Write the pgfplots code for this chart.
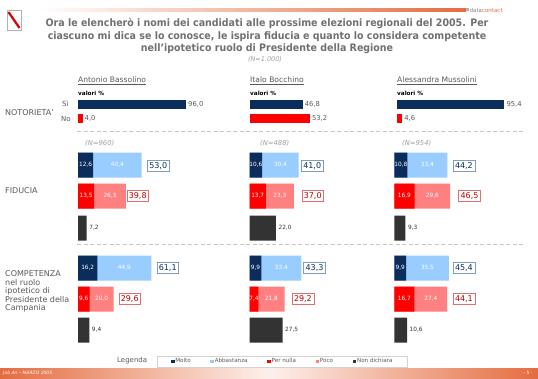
\documentclass[border=0pt]{standalone}
\usepackage{pgfplots}
\pgfplotsset{compat=1.18}
\usepackage{fontspec}
\setmainfont{DejaVu Sans}
\newfontfamily\titlefont[FakeStretch=0.92]{DejaVu Sans}
\definecolor{navy}{HTML}{0B2D5B}
\definecolor{lblue}{HTML}{99CCFF}
\definecolor{pred}{HTML}{FF0000}
\definecolor{pink}{HTML}{FF8080}
\definecolor{dgray}{HTML}{333333}
\definecolor{txt}{HTML}{5A5A5A}
\definecolor{ttl}{HTML}{707070}
\definecolor{ngray}{HTML}{A0A0A0}
\definecolor{boxblue}{HTML}{7F9CBA}
\definecolor{boxred}{HTML}{E07070}
\definecolor{darkred}{HTML}{C00000}
\definecolor{orng}{HTML}{E46C3F}
\newcommand{\fs}[1]{\fontsize{#1}{#1}\selectfont}
\pgfplotsset{
  panel/.style={hide axis, scale only axis, clip=false,
    ymin=-378, ymax=0, height=378pt, xmin=0, xmax=100, anchor=south west},
  hb/.style={xbar, bar shift=0pt, draw=none, fill=#1, forget plot},
}
\tikzset{
  inl/.style={font=\fs{5.8}, text=white, inner sep=0pt},
  outl/.style={font=\fs{5.8}, text=dgray, inner sep=0pt, anchor=west, xshift=2.5pt},
  nv/.style={font=\fs{6.8}, text=txt, inner sep=0pt, anchor=west, xshift=2pt},
  bbox/.style={draw=boxblue, text=navy, font=\fs{8}, inner xsep=2pt, inner ysep=0pt, minimum height=11pt, anchor=west, line width=0.6pt},
  rbox/.style={draw=boxred, text=darkred, font=\fs{8}, inner xsep=2pt, inner ysep=0pt, minimum height=11pt, anchor=west, line width=0.6pt},
  lab/.style={font=\fs{8}, text=txt, inner sep=0pt, anchor=base west},
}
\begin{document}
\begin{tikzpicture}[x=1pt,y=1pt]
\path[use as bounding box] (0,0) rectangle (538,-378);
\fill[white] (0,0) rectangle (538,-378);
% top decoration
\shade[left color=white, right color=orng] (40,-8.5) rectangle (466,-11);
\fill[gray!60] (466,-8) rectangle (469,-11);
\node[anchor=west, inner sep=0, font=\fs{5.5}] at (469.5,-10) {\textcolor{gray}{data}\textcolor{orng}{contact}};
% logo
\draw[gray!60, line width=0.6pt] (7,-10) rectangle (21,-30);
\draw[red!85!black, line width=2.2pt] (8.5,-12) -- (19.5,-28);
% title
\node[anchor=base, font={\titlefont\bfseries\fs{10.3}}, text=ttl, inner sep=0] at (267,-26.7) {Ora le elencherò i nomi dei candidati alle prossime elezioni regionali del 2005. Per};
\node[anchor=base, font={\titlefont\bfseries\fs{10.3}}, text=ttl, inner sep=0] at (267,-39.1) {ciascuno mi dica se lo conosce, le ispira fiducia e quanto lo considera competente};
\node[anchor=base, font={\titlefont\bfseries\fs{10.3}}, text=ttl, inner sep=0] at (267,-51.5) {nell’ipotetico ruolo di Presidente della Regione};
\node[anchor=base, font={\itshape\fs{6.5}}, text=ngray, inner sep=0] at (265,-61) {(N=1.000)};
% column headers
\foreach \x/\n in {78/Antonio Bassolino, 250/Italo Bocchino, 397/Alessandra Mussolini} {
  \node[anchor=base west, inner sep=0, font=\fs{7.6}, text=txt] at (\x,-82.5) {\underline{\n}};
  \node[anchor=base west, inner sep=0, font=\bfseries\fs{5.7}, text=black] at (\x,-95) {valori \%};
}
% left labels
\node[lab] at (5,-115) {NOTORIETA'};
\node[lab, font=\fs{7}] at (62,-106.8) {Sì};
\node[lab, font=\fs{7}] at (61,-121) {No};
\node[lab] at (5,-193) {FIDUCIA};
\node[lab] at (5,-276.5) {COMPETENZA};
\node[lab] at (5,-285.1) {nel ruolo};
\node[lab] at (5,-293.7) {ipotetico di};
\node[lab] at (5,-302.3) {Presidente della};
\node[lab] at (5,-310.9) {Campania};
% dashed separators
\draw[gray!45, dash pattern=on 4pt off 2.5pt, line width=0.6pt] (77,-131) -- (525,-131);
\draw[gray!45, dash pattern=on 4pt off 2.5pt, line width=0.6pt] (77,-244) -- (525,-244);
% N labels
\node[anchor=base west, inner sep=0, font={\itshape\fs{6.8}}, text=ngray] at (85,-145.5) {(N=960)};
\node[anchor=base west, inner sep=0, font={\itshape\fs{6.8}}, text=ngray] at (260,-145.5) {(N=488)};
\node[anchor=base west, inner sep=0, font={\itshape\fs{6.8}}, text=ngray] at (402,-145.5) {(N=954)};

% ---------- NOTORIETA' (y = -row position in px) ----------
\begin{axis}[panel, at={(78pt,-378pt)}, width=112.5pt]
\addplot[hb=navy, bar width=9pt] coordinates {(96.0,-104.5)};
\addplot[hb=pred, bar width=9pt] coordinates {(4.0,-118.5)};
\node[nv] at (axis cs:96.0,-104.5) {96,0};
\node[nv] at (axis cs:4.0,-118.5) {4,0};
\end{axis}
\begin{axis}[panel, at={(250pt,-378pt)}, width=112.5pt]
\addplot[hb=navy, bar width=9pt] coordinates {(46.8,-104.5)};
\addplot[hb=pred, bar width=9pt] coordinates {(53.2,-118.5)};
\node[nv] at (axis cs:46.8,-104.5) {46,8};
\node[nv] at (axis cs:53.2,-118.5) {53,2};
\end{axis}
\begin{axis}[panel, at={(397pt,-378pt)}, width=112.5pt]
\addplot[hb=navy, bar width=9pt] coordinates {(95.4,-104.5)};
\addplot[hb=pred, bar width=9pt] coordinates {(4.6,-118.5)};
\node[nv] at (axis cs:95.4,-104.5) {95,4};
\node[nv] at (axis cs:4.6,-118.5) {4,6};
\end{axis}

% ---------- FIDUCIA / COMPETENZA: Bassolino ----------
\begin{axis}[panel, at={(78pt,-378pt)}, width=120pt, bar width=25pt]
% Molto+Abbastanza total, Molto, Per nulla+Poco total, Per nulla, Non dichiara
\addplot[hb=lblue] coordinates {(53.0,-165) (61.1,-268)};
\addplot[hb=navy]  coordinates {(12.6,-165) (16.2,-268)};
\addplot[hb=pink]  coordinates {(39.8,-196) (29.6,-299)};
\addplot[hb=pred]  coordinates {(13.5,-196) (9.6,-299)};
\addplot[hb=dgray] coordinates {(7.2,-228) (9.4,-330)};
\node[inl] at (axis cs:6.3,-165) {12,6};
\node[inl] at (axis cs:32.8,-165) {40,4};
\node[inl] at (axis cs:6.75,-196) {13,5};
\node[inl] at (axis cs:26.65,-196) {26,3};
\node[outl] at (axis cs:7.2,-228) {7,2};
\node[inl] at (axis cs:8.1,-268) {16,2};
\node[inl] at (axis cs:38.65,-268) {44,9};
\node[inl] at (axis cs:4.8,-299) {9,6};
\node[inl] at (axis cs:19.6,-299) {20,0};
\node[outl] at (axis cs:9.4,-330) {9,4};
\end{axis}
% ---------- Bocchino ----------
\begin{axis}[panel, at={(249.5pt,-378pt)}, width=120pt, bar width=25pt]
\addplot[hb=lblue] coordinates {(41.0,-165) (43.3,-268)};
\addplot[hb=navy]  coordinates {(10.6,-165) (9.9,-268)};
\addplot[hb=pink]  coordinates {(37.0,-196) (29.2,-299)};
\addplot[hb=pred]  coordinates {(13.7,-196) (7.4,-299)};
\addplot[hb=dgray] coordinates {(22.0,-228) (27.5,-330)};
\node[inl] at (axis cs:5.3,-165) {10,6};
\node[inl] at (axis cs:25.8,-165) {30,4};
\node[inl] at (axis cs:6.85,-196) {13,7};
\node[inl] at (axis cs:25.35,-196) {23,3};
\node[outl] at (axis cs:22.0,-228) {22,0};
\node[inl] at (axis cs:4.95,-268) {9,9};
\node[inl] at (axis cs:26.6,-268) {33,4};
\node[inl] at (axis cs:3.7,-299) {7,4};
\node[inl] at (axis cs:18.3,-299) {21,8};
\node[outl] at (axis cs:27.5,-330) {27,5};
\end{axis}
% ---------- Mussolini ----------
\begin{axis}[panel, at={(394.3pt,-378pt)}, width=120pt, bar width=25pt]
\addplot[hb=lblue] coordinates {(44.2,-165) (45.4,-268)};
\addplot[hb=navy]  coordinates {(10.8,-165) (9.9,-268)};
\addplot[hb=pink]  coordinates {(46.5,-196) (44.1,-299)};
\addplot[hb=pred]  coordinates {(16.9,-196) (16.7,-299)};
\addplot[hb=dgray] coordinates {(9.3,-228) (10.6,-330)};
\node[inl] at (axis cs:5.4,-165) {10,8};
\node[inl] at (axis cs:27.5,-165) {33,4};
\node[inl] at (axis cs:8.45,-196) {16,9};
\node[inl] at (axis cs:31.7,-196) {29,6};
\node[outl] at (axis cs:9.3,-228) {9,3};
\node[inl] at (axis cs:4.95,-268) {9,9};
\node[inl] at (axis cs:27.65,-268) {35,5};
\node[inl] at (axis cs:8.35,-299) {16,7};
\node[inl] at (axis cs:30.4,-299) {27,4};
\node[outl] at (axis cs:10.6,-330) {10,6};
\end{axis}

% total boxes
\node[bbox] at (147,-165.5) {53,0};
\node[rbox] at (126.5,-196) {39,8};
\node[bbox] at (156.5,-268) {61,1};
\node[rbox] at (118.5,-299) {29,6};
\node[bbox] at (301,-165.5) {41,0};
\node[rbox] at (301.5,-196) {37,0};
\node[bbox] at (303.3,-268) {43,3};
\node[rbox] at (291.7,-299) {29,2};
\node[bbox] at (452.7,-165.5) {44,2};
\node[rbox] at (458.3,-196) {46,5};
\node[bbox] at (452.7,-268) {45,4};
\node[rbox] at (452.7,-299) {44,1};

% legend
\node[anchor=west, inner sep=0, font=\fs{7}, text=txt] at (117,-361) {Legenda};
\begin{axis}[hide axis, scale only axis, width=538pt, height=378pt, at={(0pt,-378pt)}, anchor=south west,
  xmin=0, xmax=1, ymin=0, ymax=1,
  legend columns=5,
  legend style={at={(0.5242,0.0437)}, anchor=center, draw=gray!35, font=\fs{5.6}, text=txt,
    inner xsep=14pt, inner ysep=2pt, nodes={inner sep=0.6pt},
    /tikz/every even column/.append style={column sep=19pt}},
  legend image code/.code={\fill[#1, draw=none] (0pt,-1.9pt) rectangle (3.8pt,1.9pt);},
]
\addlegendimage{fill=navy, draw=none}
\addlegendentry{Molto}
\addlegendimage{fill=lblue, draw=none}
\addlegendentry{Abbastanza}
\addlegendimage{fill=pred, draw=none}
\addlegendentry{Per nulla}
\addlegendimage{fill=pink, draw=none}
\addlegendentry{Poco}
\addlegendimage{fill=dgray, draw=none}
\addlegendentry{Non dichiara}
\end{axis}

% bottom band
\shade[left color=orng, right color=orng, middle color=orng!10] (0,-368) rectangle (538,-378);
\node[anchor=west, inner sep=0, font={\itshape\fs{4.5}}, text=white] at (3,-373) {Job An -- MARZO 2005};
\node[anchor=center, inner sep=0, font=\fs{4.5}, text=white] at (528,-373) {- 5 -};
\end{tikzpicture}
\end{document}
